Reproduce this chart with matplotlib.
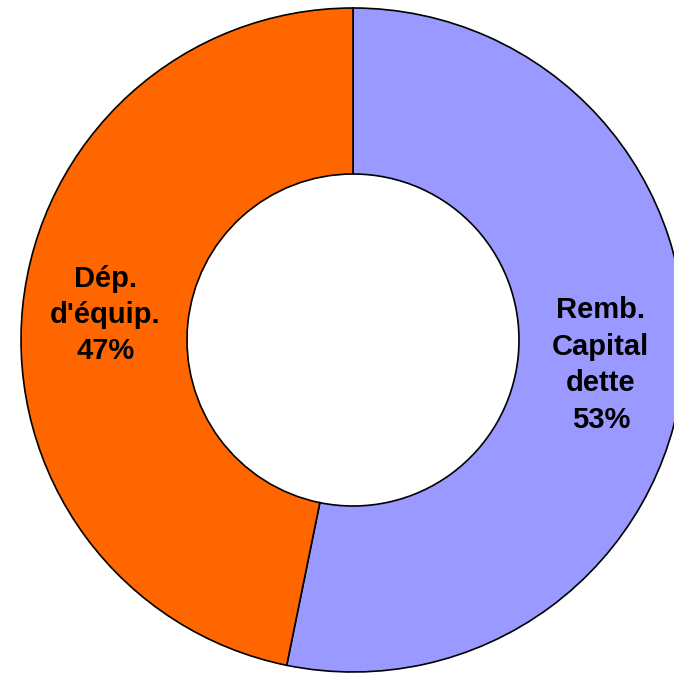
import matplotlib
matplotlib.use("Agg")
import matplotlib.pyplot as plt
import numpy as np

# data
labels = ["Remb.\nCapital\ndette", "Dép.\nd'équip."]
values = [53.2, 46.8]
colors = ["#9999FF", "#FF6600"]

plt.rcParams['font.family'] = ['Liberation Sans', 'DejaVu Sans']

fig = plt.figure(figsize=(6.74, 6.74), dpi=100)
ax = fig.add_axes([0, 0, 1, 1])

wedges, _ = ax.pie(values, colors=colors, startangle=90, counterclock=False,
                   radius=1.0, wedgeprops=dict(width=0.5, edgecolor='black', linewidth=1.2))

# labels at the middle of each wedge
total = sum(values)
start = 90.0
for lab, v in zip(labels, values):
    sweep = v / total * 360.0
    mid = np.deg2rad(start - sweep / 2)
    start -= sweep
    r = 0.75
    ax.text(r * np.cos(mid), r * np.sin(mid), "%s\n%d%%" % (lab, round(v)),
            ha='center', va='center', fontsize=21, fontweight='bold',
            linespacing=1.38)

# pixel scale: radius ~332 px, centre at (353, 340) from top-left
s = 332.0
ax.set_xlim(-353 / s, (674 - 353) / s)
ax.set_ylim(-(674 - 340) / s, 340 / s)
ax.set_aspect('auto')
ax.axis('off')

fig.savefig("out.png", dpi=100)
